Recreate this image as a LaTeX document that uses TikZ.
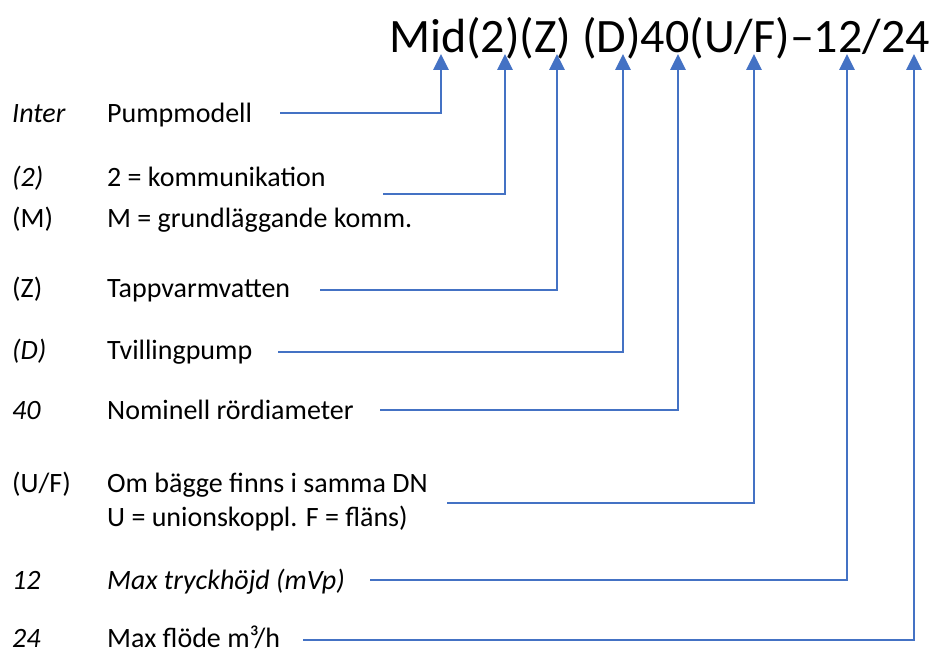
\documentclass[tikz,border=0pt]{standalone}
\usepackage{fontspec}
\setmainfont{Carlito}
\usetikzlibrary{arrows.meta}
\definecolor{leadblue}{HTML}{4472C4}
\tikzset{
  code/.style={anchor=base west,inner sep=0pt,font=\fontsize{28}{33}\selectfont},
  desc/.style={anchor=base west,inner sep=0pt,font=\fontsize{28}{33}\selectfont},
  lead/.style={draw=leadblue,line width=2.8pt,-{Triangle[length=16pt,width=15pt]}}
}
\begin{document}
\begin{tikzpicture}[x=1pt,y=-1pt]
\useasboundingbox (0,0) rectangle (931,655);
% type designation
\node[anchor=base west,inner sep=0pt,font=\fontsize{48}{56}\selectfont] (title) at (389,53) {Mid(2)(Z) (D)40(U/F)--12/24};
% arrow tips under the designation
\coordinate (tMod) at (441,54);
\coordinate (tKom) at (505,54);
\coordinate (tTap) at (557,54);
\coordinate (tTvi) at (623,54);
\coordinate (tDia) at (678,54);
\coordinate (tKop) at (754,54);
\coordinate (tTry) at (847,54);
\coordinate (tFlo) at (914,54);

% left column
\node[code] (cMod) at (12,123) {\itshape Inter};
\node[code] (cKom) at (12,187) {\itshape (2)};
\node[code] (cGru) at (12,227) {(M)};
\node[code] (cTap) at (12,297) {(Z)};
\node[code] (cTvi) at (12,359) {\itshape (D)};
\node[code] (cDia) at (12,419) {\itshape 40};
\node[code] (cKop) at (12,492) {(U/F)};
\node[code] (cTry) at (12,589) {\itshape 12};
\node[code] (cFlo) at (12,647) {\itshape 24};

\node[desc] (dMod) at (107,123) {Pumpmodell};
\node[desc] (dKom) at (107,187) {2 = kommunikation};
\node[desc] (dGru) at (107,227) {M = grundläggande komm.};
\node[desc] (dTap) at (107,297) {Tappvarmvatten};
\node[desc] (dTvi) at (107,359) {Tvillingpump};
\node[desc] (dDia) at (107,419) {Nominell rördiameter};
\node[desc] (dKop) at (107,492) {Om bägge finns i samma DN};
\node[desc] (dUni) at (107,526) {U = unionskoppl. F = fläns)};
\node[desc] (dTry) at (107,589) {\itshape Max tryckhöjd (mVp)};
\node[desc] (dFlo) at (107,647) {Max flöde m³/h};

% leaders
\coordinate (sMod) at (280,113);
\coordinate (sKom) at (383,194);
\coordinate (sTap) at (320,290);
\coordinate (sTvi) at (278,352);
\coordinate (sDia) at (380,410);
\coordinate (sKop) at (447,503);
\coordinate (sTry) at (370,580);
\coordinate (sFlo) at (303,640);
\draw[lead] (sMod) -| (tMod);
\draw[lead] (sKom) -| (tKom);
\draw[lead] (sTap) -| (tTap);
\draw[lead] (sTvi) -| (tTvi);
\draw[lead] (sDia) -| (tDia);
\draw[lead] (sKop) -| (tKop);
\draw[lead] (sTry) -| (tTry);
\draw[lead] (sFlo) -| (tFlo);
\end{tikzpicture}
\end{document}
